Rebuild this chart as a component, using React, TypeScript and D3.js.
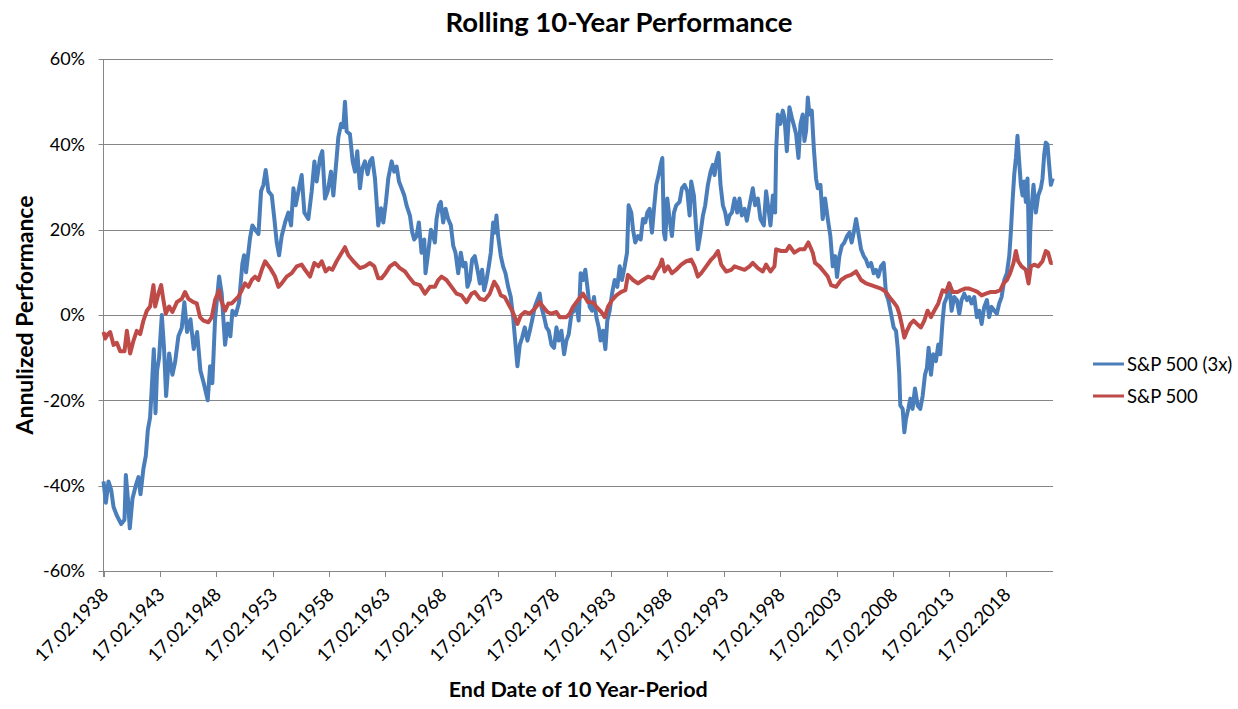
import React, {Component} from 'react';
import * as d3 from "d3"

// tick labels
const tickYears = [1938, 1943, 1948, 1953, 1958, 1963, 1968, 1973, 1978, 1983, 1988, 1993, 1998, 2003, 2008, 2013, 2018]
const yTicks = [-60, -40, -20, 0, 20, 40, 60]
const seriesNames = ["S&P 500 (3x)", "S&P 500"]

// [end date as decimal year, annualized 10y performance in %]
const lev3x: [number, number][] = [
  [1938.13,-39],[1938.34,-44],[1938.57,-39],[1938.81,-41],[1939.02,-45],[1939.31,-47],[1939.70,-49],[1939.99,-48],
  [1940.11,-37.5],[1940.29,-43],[1940.46,-50],[1940.70,-43],[1940.99,-40],[1941.23,-38],[1941.41,-42],[1941.67,-36],
  [1941.88,-33],[1942.06,-27],[1942.26,-24],[1942.41,-17],[1942.59,-8],[1942.74,-23],[1942.88,-13],[1943.06,-10],
  [1943.30,0],[1943.50,-8],[1943.68,-19],[1943.95,-9],[1944.24,-14],[1944.48,-11],[1944.77,-5],[1945.07,-3],
  [1945.30,3],[1945.54,-4],[1945.84,-1],[1946.13,-8],[1946.43,-4],[1946.72,-13],[1947.02,-16],[1947.37,-20],
  [1947.58,-12],[1947.78,-16],[1948.02,-1],[1948.38,9],[1948.61,5],[1948.91,-7],[1949.14,-2],[1949.38,-5],
  [1949.56,1],[1949.85,0],[1950.15,3],[1950.44,12],[1950.59,14],[1950.77,10],[1951.12,18],[1951.33,21],
  [1951.57,20],[1951.87,19],[1952.10,29],[1952.31,30.5],[1952.51,34],[1952.75,29],[1953.05,28],[1953.28,22.5],
  [1953.49,17],[1953.70,14],[1953.93,18.5],[1954.23,21.7],[1954.52,24],[1954.76,21],[1954.97,29.7],[1955.17,25.7],
  [1955.41,29],[1955.70,32.8],[1955.94,24],[1956.29,22.5],[1956.59,29],[1956.83,36],[1957.03,31.3],[1957.33,36.8],
  [1957.53,38.4],[1957.77,27.3],[1958.01,29],[1958.30,33.6],[1958.51,28],[1958.80,36.8],[1958.95,41.6],[1959.19,44.8],
  [1959.39,44],[1959.54,50],[1959.69,43],[1959.98,42.4],[1960.22,36],[1960.43,33.6],[1960.63,38.4],[1960.87,29.7],
  [1961.08,34.4],[1961.31,36],[1961.55,33],[1961.76,36],[1961.96,36.8],[1962.20,32],[1962.49,21],[1962.73,25],
  [1962.94,21.7],[1963.17,26.5],[1963.38,32],[1963.68,36],[1963.91,33.6],[1964.12,34.8],[1964.33,31.3],[1964.56,29.7],
  [1964.80,28],[1965.00,25.7],[1965.30,23.3],[1965.51,19.3],[1965.68,17.7],[1965.89,18.5],[1966.09,21.7],[1966.33,14.6],
  [1966.57,17.7],[1966.68,9.8],[1966.92,14.6],[1967.16,20],[1967.36,18.5],[1967.51,17],[1967.66,22.5],[1967.87,25.7],
  [1968.04,26.5],[1968.25,21.7],[1968.46,24.9],[1968.69,22.5],[1968.93,21],[1969.14,16.2],[1969.34,14.6],[1969.58,9.8],
  [1969.81,14.6],[1970.02,11.4],[1970.23,12.2],[1970.40,6.6],[1970.61,8.2],[1970.82,13],[1971.05,13.8],[1971.29,10.6],
  [1971.50,7.4],[1971.70,10.6],[1971.88,5.8],[1972.09,8.2],[1972.29,11.4],[1972.47,14.6],[1972.68,21.7],[1972.83,19.3],
  [1972.97,23.3],[1973.12,18.5],[1973.36,13.8],[1973.56,11.4],[1973.77,9.8],[1974.01,6.6],[1974.24,4.2],[1974.45,-0.5],
  [1974.66,-6.9],[1974.83,-12],[1975.04,-7],[1975.25,-5.3],[1975.48,-2.9],[1975.72,-6],[1975.93,-3.7],[1976.13,-1.3],
  [1976.37,1.9],[1976.60,3.5],[1976.81,5],[1976.96,1.9],[1977.20,-0.5],[1977.40,-2.9],[1977.61,-3.7],[1977.85,-7],
  [1978.08,-7.7],[1978.29,-2.9],[1978.49,-6],[1978.73,-3.7],[1978.97,-9.2],[1979.17,-6],[1979.38,-4.5],[1979.62,0.3],
  [1979.85,1],[1980.06,2.7],[1980.26,-1.3],[1980.44,9.8],[1980.65,8.2],[1980.85,10.6],[1981.03,6.6],[1981.24,1.9],
  [1981.45,1],[1981.62,4.2],[1981.83,-0.5],[1982.04,-2.9],[1982.21,-6],[1982.42,-3.7],[1982.63,-8],[1982.80,-1.3],
  [1983.01,1],[1983.22,5],[1983.45,8.2],[1983.69,6.6],[1983.90,11.4],[1984.10,8.2],[1984.34,11.4],[1984.55,14.6],
  [1984.69,25.7],[1984.93,24],[1985.08,20],[1985.28,17],[1985.52,18.5],[1985.76,17.7],[1985.96,22.5],[1986.17,21.7],
  [1986.35,24],[1986.55,24.9],[1986.76,19.3],[1986.94,24.9],[1987.14,30.5],[1987.35,32.8],[1987.53,35.2],[1987.68,36.8],
  [1987.82,19.3],[1987.94,17.7],[1988.12,27.3],[1988.32,22.5],[1988.53,18.5],[1988.71,24],[1988.91,25.7],[1989.21,26.5],
  [1989.42,29.7],[1989.65,30.5],[1989.89,29],[1990.10,23.3],[1990.24,31.3],[1990.48,28],[1990.69,20],[1990.83,15.4],
  [1991.07,19.3],[1991.28,23.3],[1991.48,25.7],[1991.72,30.5],[1991.96,33.6],[1992.16,35.2],[1992.31,32.8],[1992.46,36],
  [1992.66,38],[1992.84,30.5],[1993.05,25.7],[1993.26,24],[1993.43,21.3],[1993.64,23.3],[1993.85,24],[1994.08,27.3],
  [1994.32,24],[1994.52,27.3],[1994.73,23.3],[1994.97,24.9],[1995.17,22.1],[1995.41,25.7],[1995.70,29.7],[1995.91,25.7],
  [1996.15,27.3],[1996.38,22.5],[1996.68,21],[1996.88,29],[1997.09,24.9],[1997.27,21],[1997.48,28],[1997.68,24],
  [1997.77,38.4],[1997.92,47],[1998.15,44.8],[1998.36,47.9],[1998.51,46.3],[1998.72,38.4],[1998.95,48.7],[1999.16,46.3],
  [1999.39,44],[1999.54,42.4],[1999.75,36.8],[1999.93,44.8],[2000.13,47],[2000.28,40.8],[2000.43,43.2],[2000.58,51],
  [2000.72,47],[2000.93,47.9],[2001.11,39.2],[2001.31,32],[2001.46,29.7],[2001.70,30.5],[2001.90,22.5],[2002.11,27.3],
  [2002.35,22.5],[2002.58,18.5],[2002.79,11.4],[2003.00,13.8],[2003.17,8.9],[2003.38,13.8],[2003.59,16.2],[2003.82,17],
  [2004.06,18.5],[2004.27,19.3],[2004.47,17],[2004.65,19.3],[2004.86,22.5],[2005.06,19.3],[2005.30,15.4],[2005.54,13.8],
  [2005.74,13],[2005.95,11.4],[2006.19,12.2],[2006.42,9.8],[2006.63,10.6],[2006.83,9],[2007.07,11.4],[2007.31,12.2],
  [2007.51,5],[2007.72,3.5],[2007.96,0.3],[2008.19,-2.9],[2008.40,-3.7],[2008.55,-7.7],[2008.69,-14],[2008.78,-21.2],
  [2008.99,-22],[2009.14,-27.5],[2009.28,-24.4],[2009.49,-22],[2009.67,-19.6],[2009.87,-22],[2010.08,-17.2],[2010.32,-21.2],
  [2010.55,-22],[2010.76,-19],[2010.97,-14],[2011.14,-12.4],[2011.29,-7.7],[2011.50,-14],[2011.70,-9.2],[2011.94,-10.8],
  [2012.15,-6.9],[2012.32,-9.2],[2012.53,-1.3],[2012.68,2.7],[2012.91,4.2],[2013.12,7.4],[2013.33,1],[2013.56,4.2],
  [2013.80,3.5],[2014.01,0.3],[2014.21,3.5],[2014.45,5],[2014.69,3.5],[2014.89,4.2],[2015.10,2.7],[2015.34,4.2],
  [2015.57,-0.5],[2015.78,1],[2015.99,-2.1],[2016.22,1.9],[2016.46,3.5],[2016.66,-0.5],[2016.87,1.9],[2017.11,1],
  [2017.34,0.3],[2017.55,2.7],[2017.76,4.2],[2018.00,8.2],[2018.23,9.8],[2018.44,13.8],[2018.58,19.3],[2018.73,26.5],
  [2018.88,32.8],[2019.03,36.8],[2019.17,42],[2019.32,36],[2019.47,30.5],[2019.62,28],[2019.76,31.3],[2019.91,26.5],
  [2020.06,32],[2020.15,21],[2020.21,10],[2020.30,19.3],[2020.41,24.9],[2020.59,30.5],[2020.80,24],[2021.01,28],
  [2021.24,29.7],[2021.39,32],[2021.54,37.6],[2021.68,40.4],[2021.83,40],[2021.98,35.2],[2022.13,30.5],[2022.30,32]
]

const sp500: [number, number][] = [
  [1938.13,-4],[1938.28,-5.5],[1938.51,-4.5],[1938.72,-4],[1939.02,-7],[1939.31,-6.5],[1939.61,-8.5],[1939.99,-8.5],
  [1940.20,-3.7],[1940.49,-9],[1940.79,-6],[1941.08,-3.7],[1941.38,-4.5],[1941.67,-1.3],[1941.97,1],[1942.26,2],
  [1942.56,7],[1942.71,2],[1943.00,5],[1943.24,7],[1943.44,3.5],[1943.65,0.3],[1943.95,2],[1944.24,0.7],
  [1944.63,3],[1945.07,3.8],[1945.36,5.4],[1945.66,3.8],[1946.10,3],[1946.40,2.7],[1946.69,-0.5],[1946.99,-1.3],
  [1947.43,-1.7],[1947.73,-0.5],[1948.02,3.5],[1948.38,5.8],[1948.55,3.5],[1948.91,1],[1949.20,2.7],[1949.50,2.7],
  [1949.79,3.5],[1950.09,4.3],[1950.39,5.8],[1950.68,7.4],[1950.98,6.6],[1951.27,8.2],[1951.57,9],[1951.87,8.2],
  [1952.16,10.6],[1952.46,12.6],[1952.90,11],[1953.34,9],[1953.64,6.6],[1953.93,7.4],[1954.37,9],[1954.82,9.8],
  [1955.26,11.4],[1955.70,11.8],[1956.00,10.6],[1956.44,9],[1956.83,12.2],[1957.18,11.4],[1957.48,12.6],[1957.83,10.2],
  [1958.12,11],[1958.42,10.6],[1958.80,12.6],[1959.25,14.6],[1959.54,15.9],[1959.84,14],[1960.28,12.6],[1960.87,11],
  [1961.31,11.4],[1961.76,12.2],[1962.14,11.4],[1962.49,8.6],[1962.79,8.6],[1963.14,9.8],[1963.53,11.4],[1963.97,12.2],
  [1964.41,11],[1964.86,10.2],[1965.30,8.6],[1965.68,7.4],[1966.18,7],[1966.63,5],[1967.07,6.6],[1967.51,6.6],
  [1967.81,8.2],[1968.10,9],[1968.54,8.2],[1968.99,6.6],[1969.43,5],[1969.87,4.6],[1970.32,3],[1970.76,5],
  [1971.05,5.4],[1971.50,3.8],[1971.94,3.5],[1972.38,5],[1972.77,7.8],[1973.06,6.6],[1973.36,4.6],[1973.71,4.2],
  [1974.01,2.7],[1974.36,1],[1974.60,-0.5],[1974.83,-2.1],[1975.13,-0.1],[1975.48,0.7],[1975.93,0.3],[1976.37,1.5],
  [1976.81,3],[1977.11,1.9],[1977.49,0.7],[1977.85,0.3],[1978.29,0.7],[1978.58,-0.5],[1978.88,-0.5],[1979.17,-0.5],
  [1979.47,0.3],[1979.76,1.9],[1980.21,3.5],[1980.65,5],[1981.09,3],[1981.53,3],[1981.83,1.9],[1982.27,0.7],
  [1982.57,-0.5],[1982.86,1.9],[1983.22,3.5],[1983.60,4.6],[1984.04,5.4],[1984.40,5.8],[1984.63,9.4],[1985.08,8.2],
  [1985.52,7.4],[1985.96,8.2],[1986.41,9],[1986.85,8.6],[1987.14,10.2],[1987.44,11.4],[1987.65,13],[1987.88,10.2],
  [1988.18,11.4],[1988.53,9.8],[1988.91,10.6],[1989.36,11.8],[1989.80,12.6],[1990.24,13],[1990.54,11.4],[1990.83,9],
  [1991.13,9.8],[1991.57,11.4],[1992.01,13],[1992.31,13.8],[1992.61,15],[1992.90,11.8],[1993.34,10.2],[1993.79,10.6],
  [1994.08,11.4],[1994.52,11],[1994.97,10.6],[1995.41,11.4],[1995.70,12.2],[1996.15,11],[1996.59,10.2],[1996.88,11.8],
  [1997.27,10.2],[1997.62,11.4],[1997.77,15.4],[1998.21,15],[1998.66,15],[1998.95,16.2],[1999.39,14.6],[1999.84,15.4],
  [2000.28,15.4],[2000.63,17],[2001.02,14.6],[2001.22,12.2],[2001.61,11.4],[2001.99,10.2],[2002.35,9],[2002.64,7],
  [2003.09,6.6],[2003.53,8.2],[2003.97,9],[2004.41,9.4],[2004.86,10.2],[2005.30,8.2],[2005.74,7.4],[2006.19,7],
  [2006.63,6.6],[2007.07,6.2],[2007.51,5.4],[2007.81,4.2],[2008.19,3],[2008.49,1.9],[2008.69,0.3],[2008.90,-2.1],
  [2009.14,-5.3],[2009.37,-3.7],[2009.67,-2.1],[2009.96,-1.3],[2010.26,-2.1],[2010.61,-2.9],[2010.91,-1.3],[2011.20,1],
  [2011.50,-0.5],[2011.79,1],[2012.15,2.7],[2012.53,5.8],[2012.83,5.4],[2013.12,7.4],[2013.42,5.4],[2013.86,5.4],
  [2014.15,5.8],[2014.51,6.2],[2014.89,6.2],[2015.28,5.8],[2015.63,5.4],[2015.99,4.6],[2016.37,5],[2016.81,5.4],
  [2017.26,5.4],[2017.64,5.8],[2017.93,7.4],[2018.23,8.2],[2018.52,9.8],[2018.82,12.2],[2019.03,15],[2019.23,12.6],
  [2019.53,11.4],[2019.91,10.6],[2020.15,7.4],[2020.36,11.4],[2020.65,11.8],[2021.01,11.4],[2021.39,12.6],[2021.68,15],
  [2021.89,14.6],[2022.13,12.2],[2022.30,12.2]
]

const colors = ["#4A7EBB", "#BE4B48"]

class App extends Component {

    renderChart(){
      const width = 1238
      const height = 709
      const margin = ({top: 59, right: 185, bottom: 138, left: 103.5})
      const font = "Lato, 'DejaVu Sans', sans-serif"
      const gridColor = "#868686"

      const root = d3.select("#RollingChart")
      root.selectAll("*").remove()
      const svg = root.append("svg")
        .attr("width", width)
        .attr("height", height)
        .style("display", "block")
        .style("background", "#fff")
        .attr("font-family", font)

      // Feb 17th as decimal year
      const feb17 = 47 / 365
      let x = d3.scaleLinear()
        .domain([1938 + feb17, 2022.32])
        .range([margin.left, width - margin.right])

      let y = d3.scaleLinear()
        .domain([-60, 60])
        .range([height - margin.bottom, margin.top])

      // horizontal gridlines
      svg.append("g")
        .selectAll("line")
        .data(yTicks)
        .join("line")
          .attr("x1", margin.left - 5)
          .attr("x2", width - margin.right)
          .attr("y1", d => Math.round(y(d)) + 0.5)
          .attr("y2", d => Math.round(y(d)) + 0.5)
          .attr("stroke", gridColor)
          .attr("stroke-width", 1)

      // y axis line
      svg.append("line")
        .attr("x1", margin.left).attr("x2", margin.left)
        .attr("y1", y(60)).attr("y2", y(-60) + 6)
        .attr("stroke", gridColor)

      // y tick labels
      svg.append("g")
        .selectAll("text")
        .data(yTicks)
        .join("text")
          .attr("x", 85)
          .attr("y", d => y(d))
          .attr("dy", "0.36em")
          .attr("text-anchor", "end")
          .attr("font-size", 18)
          .attr("fill", "#000")
          .text(d => d + "%")

      // x ticks
      svg.append("g")
        .selectAll("line")
        .data(tickYears)
        .join("line")
          .attr("x1", d => Math.round(x(d + feb17)) + 0.5)
          .attr("x2", d => Math.round(x(d + feb17)) + 0.5)
          .attr("y1", y(-60))
          .attr("y2", y(-60) + 6)
          .attr("stroke", gridColor)

      svg.append("g")
        .selectAll("text")
        .data(tickYears)
        .join("text")
          .attr("transform", d => `translate(${x(d + feb17) + 6},${y(-60) + 25}) rotate(-45)`)
          .attr("text-anchor", "end")
          .attr("font-size", 18.5)
          .attr("fill", "#000")
          .text(d => "17.02." + d)

      // lines
      const line = d3.line<[number, number]>()
        .x(d => x(d[0]))
        .y(d => y(d[1]))

      svg.append("path")
        .datum(lev3x)
        .attr("fill", "none")
        .attr("stroke", colors[0])
        .attr("stroke-width", 4)
        .attr("stroke-linejoin", "round")
        .attr("d", line)

      svg.append("path")
        .datum(sp500)
        .attr("fill", "none")
        .attr("stroke", colors[1])
        .attr("stroke-width", 4)
        .attr("stroke-linejoin", "round")
        .attr("d", line)

      // title
      svg.append("text")
        .attr("x", 619)
        .attr("y", 32)
        .attr("text-anchor", "middle")
        .attr("font-size", 27.5)
        .attr("font-weight", "bold")
        .attr("fill", "#000")
        .text("Rolling 10-Year Performance")

      // axis titles
      svg.append("text")
        .attr("transform", `translate(33,${y(0)}) rotate(-90)`)
        .attr("text-anchor", "middle")
        .attr("font-size", 23)
        .attr("font-weight", "bold")
        .attr("fill", "#000")
        .text("Annulized Performance")

      svg.append("text")
        .attr("x", (margin.left + width - margin.right) / 2)
        .attr("y", 697)
        .attr("text-anchor", "middle")
        .attr("font-size", 21.5)
        .attr("font-weight", "bold")
        .attr("fill", "#000")
        .text("End Date of 10 Year-Period")

      // legend
      const legend = svg.append("g")
        .selectAll("g")
        .data(seriesNames)
        .join("g")
          .attr("transform", (d, i) => `translate(1093,${364 + i * 32})`)

      legend.append("line")
        .attr("x1", 0).attr("x2", 31)
        .attr("stroke", (d, i) => colors[i])
        .attr("stroke-width", 3)

      legend.append("text")
        .attr("x", 34)
        .attr("dy", "0.36em")
        .attr("font-size", 18.5)
        .attr("fill", "#000")
        .text(d => d)
    }

    componentDidMount(){
      document.body.style.margin = "0"
      this.renderChart()
    }

    render() {
        return (
            <div id='RollingChart'></div>
       )
    }
}
export default App;
